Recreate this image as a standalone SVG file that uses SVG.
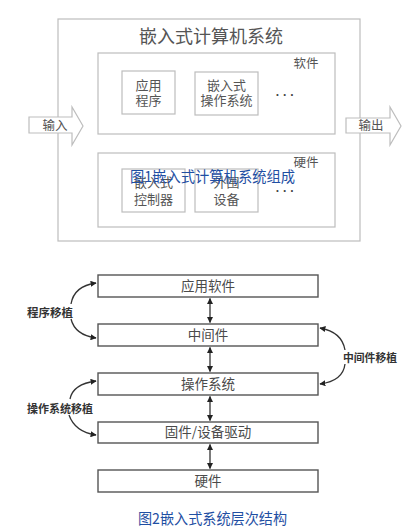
<svg xmlns="http://www.w3.org/2000/svg" width="416" height="528" viewBox="0 0 416 528">
<style>
  .t1 { font-family: "Noto Sans CJK SC", "Liberation Serif", sans-serif; fill: #555; }
  .box1 { fill: #fff; stroke: #bdbdbd; stroke-width: 1.2; }
  .box2 { fill: #fff; stroke: #555; stroke-width: 1.4; }
  .t2 { font-family: "Noto Sans CJK SC", sans-serif; fill: #4a4a4a; font-size: 13.5px; }
  .lab { font-family: "Noto Sans CJK SC", sans-serif; fill: #333; font-size: 11px; font-weight: bold; }
  .cap { font-family: "Noto Sans CJK SC", sans-serif; fill: #1f4fa3; font-size: 15px; }
  .dots { font-family: "Liberation Sans", sans-serif; fill: #444; font-size: 12px; font-weight: bold; }
  .conn { fill: none; stroke: #333; stroke-width: 1.3; }
</style>
<defs>
  <marker id="ah" viewBox="0 0 10 10" refX="9" refY="5" markerWidth="6" markerHeight="6" orient="auto-start-reverse" markerUnits="userSpaceOnUse">
    <path d="M0,0 L10,5 L0,10 z" fill="#222"/>
  </marker>
</defs>
<rect width="416" height="528" fill="#fff"/>

<!-- Figure 1 -->
<g id="system">
  <rect class="box1" x="58" y="19" width="302" height="222"/>
  <text class="t1" x="211" y="43" font-size="18" text-anchor="middle">嵌入式计算机系统</text>
</g>
<g id="software">
  <rect class="box1" x="98" y="53" width="237" height="81"/>
  <text class="t1" x="306" y="68" font-size="12.5" text-anchor="middle">软件</text>
</g>
<g id="app">
  <rect class="box1" x="122" y="71" width="53" height="43"/>
  <text class="t1" x="148.5" y="90" font-size="13" text-anchor="middle">应用</text>
  <text class="t1" x="148.5" y="105" font-size="13" text-anchor="middle">程序</text>
</g>
<g id="eos">
  <rect class="box1" x="195" y="72" width="63" height="43"/>
  <text class="t1" x="226.5" y="90" font-size="13" text-anchor="middle">嵌入式</text>
  <text class="t1" x="226.5" y="105" font-size="13" text-anchor="middle">操作系统</text>
</g>
<text class="dots" x="285" y="99" text-anchor="middle">· · ·</text>
<g id="hardware">
  <rect class="box1" x="98" y="153" width="237" height="74"/>
  <text class="t1" x="306" y="167" font-size="12.5" text-anchor="middle">硬件</text>
</g>
<g id="ctrl">
  <rect class="box1" x="122" y="169" width="63" height="43"/>
  <text class="t1" x="153.5" y="187" font-size="13" text-anchor="middle">嵌入式</text>
  <text class="t1" x="153.5" y="204" font-size="13" text-anchor="middle">控制器</text>
</g>
<g id="periph">
  <rect class="box1" x="195" y="169" width="63" height="43"/>
  <text class="t1" x="226.5" y="187" font-size="13" text-anchor="middle">外围</text>
  <text class="t1" x="226.5" y="204" font-size="13" text-anchor="middle">设备</text>
</g>
<text class="dots" x="285" y="195" text-anchor="middle">· · ·</text>
<g id="input">
  <path class="box1" d="M29,117 L72,117 L72,107 L83,126 L72,145 L72,133 L29,133 Z"/>
  <text class="t1" x="55" y="130" font-size="12.5" text-anchor="middle">输入</text>
</g>
<g id="output">
  <path class="box1" d="M346,118 L390,118 L390,107 L401,126 L390,145 L390,133 L346,133 Z"/>
  <text class="t1" x="371" y="130" font-size="12.5" text-anchor="middle">输出</text>
</g>
<text class="cap" x="130" y="182" textLength="165" lengthAdjust="spacingAndGlyphs">图1嵌入式计算机系统组成</text>

<!-- Figure 2 -->
<g id="l-app">
  <rect class="box2" x="98" y="275" width="220" height="22"/>
  <text class="t2" x="208" y="291" text-anchor="middle">应用软件</text>
</g>
<g id="l-mid">
  <rect class="box2" x="98" y="324" width="220" height="22"/>
  <text class="t2" x="208" y="340" text-anchor="middle">中间件</text>
</g>
<g id="l-os">
  <rect class="box2" x="98" y="373" width="220" height="22"/>
  <text class="t2" x="208" y="389" text-anchor="middle">操作系统</text>
</g>
<g id="l-fw">
  <rect class="box2" x="98" y="422" width="220" height="21"/>
  <text class="t2" x="208" y="437" text-anchor="middle">固件/设备驱动</text>
</g>
<g id="l-hw">
  <rect class="box2" x="98" y="470" width="220" height="22"/>
  <text class="t2" x="208" y="486" text-anchor="middle">硬件</text>
</g>

<g id="connectors">
  <line class="conn" x1="210" y1="298.5" x2="210" y2="322.5" marker-start="url(#ah)" marker-end="url(#ah)"/>
  <line class="conn" x1="210" y1="347.5" x2="210" y2="371.5" marker-start="url(#ah)" marker-end="url(#ah)"/>
  <line class="conn" x1="210" y1="396.5" x2="210" y2="420.5" marker-start="url(#ah)" marker-end="url(#ah)"/>
  <line class="conn" x1="210" y1="444.5" x2="210" y2="468.5" marker-start="url(#ah)" marker-end="url(#ah)"/>
  <path class="conn" d="M71,304 Q74,286 96,283" marker-end="url(#ah)"/>
  <path class="conn" d="M71,319 Q75,335 96,338" marker-end="url(#ah)"/>
  <path class="conn" d="M345,350 Q342,332 320,328" marker-end="url(#ah)"/>
  <path class="conn" d="M345,364 Q343,381 320,384" marker-end="url(#ah)"/>
  <path class="conn" d="M70,399 Q73,384 96,381" marker-end="url(#ah)"/>
  <path class="conn" d="M69,415 Q75,432 96,435" marker-end="url(#ah)"/>
</g>
<text class="lab" x="27" y="317" textLength="46" lengthAdjust="spacingAndGlyphs">程序移植</text>
<text class="lab" x="343" y="362" textLength="54" lengthAdjust="spacingAndGlyphs">中间件移植</text>
<text class="lab" x="27" y="413" textLength="66" lengthAdjust="spacingAndGlyphs">操作系统移植</text>
<text class="cap" x="138" y="524" font-size="14.5" textLength="149" lengthAdjust="spacingAndGlyphs">图2嵌入式系统层次结构</text>
</svg>
